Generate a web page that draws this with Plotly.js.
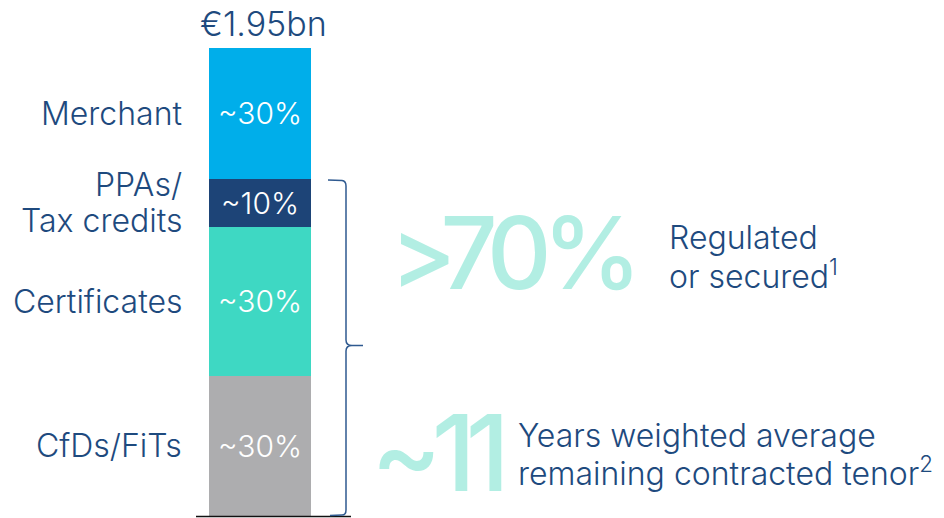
<!DOCTYPE html>
<html><head><meta charset="utf-8">
<script src="https://cdn.plot.ly/plotly-3.0.1.min.js"></script>
<style>html,body{margin:0;padding:0;background:#fff;}#chart{width:944px;height:518px;}</style>
</head><body><div id="chart"></div>
<script>
// ---- data ----
const segments = ["CfDs/FiTs", "Certificates", "PPAs/<br>Tax credits", "Merchant"];
const shares = [30.0, 31.8, 10.3, 28.0];            // bar heights (share of total, %)
const shareLabels = ["~30%", "~30%", "~10%", "~30%"];
const segColors = ["#adadaf", "#3ed8c3", "#1d4477", "#00aeea"];
const totalLabel = "€1.95bn";
const bigRegulated = ">70%";
const regulatedLines = ["Regulated", "or secured<sup>1</sup>"];
const bigTenor = "~11";
const tenorLines = ["Years weighted average", "remaining contracted tenor<sup>2</sup>"];

// ---- layout helpers (pixel space) ----
const W = 944, H = 518;
const barX = 260, barW = 102;
const baseY = 516, topY = 48;
const total = shares.reduce((a, b) => a + b, 0);
const unitPx = (baseY - topY) / total;
const yMin = -(H - baseY) / unitPx, yMax = baseY / unitPx;
const py = p => 1 - p / H;           // pixel y -> paper y
const yPix = v => baseY - v * unitPx; // data y -> pixel y
const navy = "#1e4a7e";
const bigColor = "#b2eee3";
const FONT = "Inter, Noto Sans, sans-serif";
const LINE = 36;                      // line spacing in px for multi-line labels

const traces = segments.map((s, i) => ({
  type: "bar",
  x: [barX],
  y: [shares[i]],
  width: [barW],
  name: s.replace("<br>", " "),
  marker: {color: segColors[i], line: {width: 0}},
  text: [shareLabels[i]],
  textposition: "inside",
  insidetextanchor: "middle",
  textangle: 0,
  constraintext: "none",
  textfont: {color: "#ffffff", size: 30, family: FONT, weight: 300},
  hoverinfo: "none"
}));

const annotations = [];
function addLines(lines, x, centerPx, size, color, anchor) {
  const n = lines.length;
  lines.forEach((t, k) => {
    const yc = centerPx + (k - (n - 1) / 2) * LINE;
    annotations.push({
      xref: "x", yref: "paper", x: x, y: py(yc), xanchor: anchor, yanchor: "middle",
      text: t, showarrow: false, align: anchor,
      font: {family: FONT, size: size, color: color, weight: 300}
    });
  });
}

// segment category labels, centred on each segment
let cum = 0;
segments.forEach((s, i) => {
  const mid = cum + shares[i] / 2;
  cum += shares[i];
  addLines(s.split("<br>"), 184, yPix(mid), 32, navy, "right");
});
annotations.push({
  xref: "x", yref: "y", x: barX + 3, y: total, yanchor: "bottom", xanchor: "center",
  yshift: 2, text: totalLabel, showarrow: false,
  font: {family: FONT, size: 34, color: navy, weight: 300}
});
annotations.push({
  xref: "x", yref: "paper", x: 388, y: py(252), xanchor: "left", yanchor: "middle",
  text: "<span style=\"letter-spacing:-9px\">" + bigRegulated + "</span>", showarrow: false,
  font: {family: FONT, size: 100, color: bigColor, weight: 500}
});
addLines(regulatedLines, 667, 256, 32, navy, "left");
annotations.push({
  xref: "x", yref: "paper", x: 369, y: py(452), xanchor: "left", yanchor: "middle",
  text: "<span style=\"letter-spacing:-10px\">" + bigTenor + "</span>", showarrow: false,
  font: {family: FONT, size: 106, color: bigColor, weight: 500}
});
addLines(tenorLines, 516, 453, 32, navy, "left");

const shapes = [
  // baseline
  {type: "line", xref: "x", yref: "paper", x0: 196, x1: 351, y0: py(516.5), y1: py(516.5),
   line: {color: "#111111", width: 1.5}},
  // curly bracket
  {type: "path", xref: "x", yref: "paper",
   path: `M 328 ${py(180)} L 342 ${py(180.5)} Q 346 ${py(181)} 346 ${py(186)} L 346 ${py(340)} Q 346 ${py(345.5)} 352 ${py(345.5)} L 363 ${py(345.5)} M 352 ${py(345.5)} Q 346 ${py(345.5)} 346 ${py(351)} L 346 ${py(510)} Q 346 ${py(515)} 342 ${py(515)} L 330 ${py(515.5)}`,
   line: {color: "#2f5a90", width: 1.5}}
];

const layout = {
  width: W, height: H,
  margin: {l: 0, r: 0, t: 0, b: 0, pad: 0},
  paper_bgcolor: "#ffffff", plot_bgcolor: "#ffffff",
  barmode: "stack", bargap: 0,
  showlegend: false,
  xaxis: {range: [0, W], visible: false, fixedrange: true},
  yaxis: {range: [yMin, yMax], visible: false, fixedrange: true},
  annotations, shapes,
  font: {family: FONT}
};
Plotly.newPlot("chart", traces, layout, {displayModeBar: false, staticPlot: true});
</script></body></html>
